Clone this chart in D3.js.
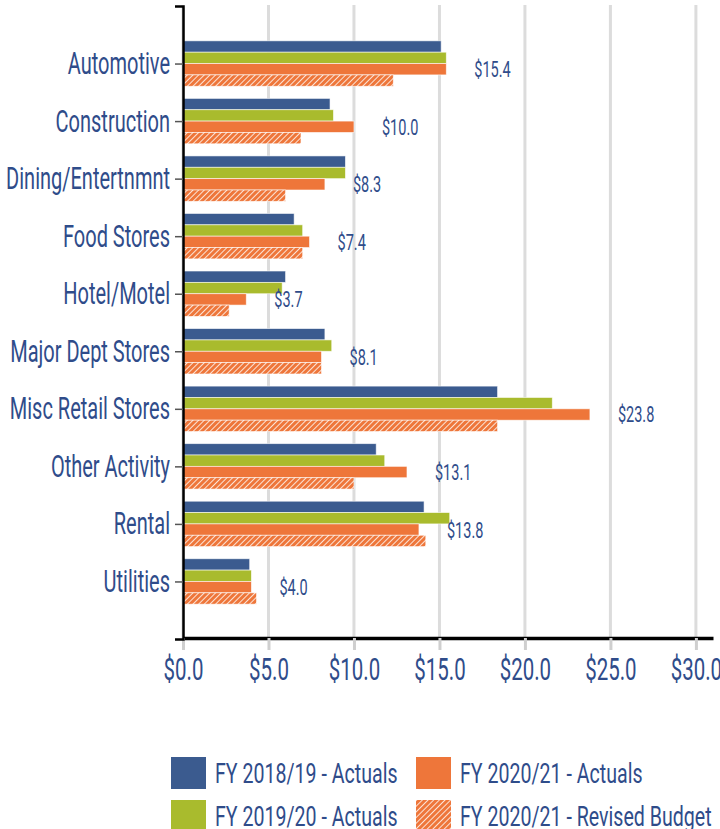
<!DOCTYPE html>
<html>
<head>
<meta charset="utf-8">
<script src="https://cdn.jsdelivr.net/npm/d3@7"></script>
<style>
  body { margin: 0; background: #fff; }
  text { font-family: Roboto, "Liberation Sans", sans-serif; fill: #2f4c8a; }
</style>
</head>
<body>
<div id="chart"></div>
<script>
// categories, top to bottom
var categories = ["Automotive", "Construction", "Dining/Entertnmnt", "Food Stores", "Hotel/Motel",
                  "Major Dept Stores", "Misc Retail Stores", "Other Activity", "Rental", "Utilities"];

// values in $ millions
var fy1819 = [15.1, 8.6, 9.5, 6.5, 6.0, 8.3, 18.4, 11.3, 14.1, 3.9];
var fy1920 = [15.4, 8.8, 9.5, 7.0, 5.8, 8.7, 21.6, 11.8, 15.6, 4.0];
var fy2021 = [15.4, 10.0, 8.3, 7.4, 3.7, 8.1, 23.8, 13.1, 13.8, 4.0];
var fy2021Budget = [12.3, 6.9, 6.0, 7.0, 2.7, 8.1, 18.4, 10.0, 14.2, 4.3];

var seriesNames = ["FY 2018/19 - Actuals", "FY 2019/20 - Actuals", "FY 2020/21 - Actuals", "FY 2020/21 - Revised Budget"];
var xTicks = [0, 5, 10, 15, 20, 25, 30];

var width = 720, height = 829;
// the original font is a condensed one, so squeeze the text horizontally
var squeeze = 0.66, squeezeCat = 0.645, squeezeLegend = 0.70;

var series = [fy1819, fy1920, fy2021, fy2021Budget];
var fills = ["#3b5b8f", "#a9bb2d", "#ee763a", "url(#hatch)"];

var svg = d3.select("#chart")
    .append("svg")
    .attr("width", width)
    .attr("height", height);

// hatch for the revised budget bars
var pattern = svg.append("defs")
    .append("pattern")
    .attr("id", "hatch")
    .attr("patternUnits", "userSpaceOnUse")
    .attr("width", 4)
    .attr("height", 4)
    .attr("patternTransform", "rotate(45)");
pattern.append("rect")
    .attr("width", 4)
    .attr("height", 4)
    .attr("fill", "#ee763a");
pattern.append("line")
    .attr("x1", 0).attr("y1", 0)
    .attr("x2", 0).attr("y2", 4)
    .attr("stroke", "#fff")
    .attr("stroke-width", 1.6);

var x = d3.scaleLinear().domain([0, 31]).range([183, 713]);
var y = d3.scalePoint().domain(categories).range([6, 639]).padding(1);
var sub = d3.scaleBand().domain(d3.range(series.length)).range([-22.7, 22.7]);

// gridlines
svg.selectAll("line.grid")
    .data(xTicks)
    .enter()
    .append("line")
    .attr("class", "grid")
    .attr("x1", function(d) { return x(d); })
    .attr("x2", function(d) { return x(d); })
    .attr("y1", 5)
    .attr("y2", 638)
    .attr("stroke", "#dcdcdc")
    .attr("stroke-width", 3);

// bars
var rows = categories.map(function(c, i) {
    return { cat: c, values: series.map(function(s) { return s[i]; }) };
});

var groups = svg.selectAll("g.row")
    .data(rows)
    .enter()
    .append("g")
    .attr("class", "row")
    .attr("transform", function(d) { return "translate(0," + y(d.cat) + ")"; });

groups.selectAll("rect")
    .data(function(d) { return d.values; })
    .enter()
    .append("rect")
    .attr("x", x(0))
    .attr("y", function(d, j) { return sub(j); })
    .attr("width", function(d) { return x(d) - x(0); })
    .attr("height", sub.bandwidth())
    .attr("fill", function(d, j) { return fills[j]; })
    .attr("stroke", "#fff")
    .attr("stroke-opacity", 0.7)
    .attr("stroke-width", 0.8);

// value labels next to the FY 2020/21 actuals
groups.append("text")
    .attr("transform", function(d) {
        return "translate(" + (x(d.values[2]) + 28) + "," + (sub(2) + sub.bandwidth() / 2) + ") scale(" + squeeze + ",1)";
    })
    .attr("dy", "0.36em")
    .style("font-size", "22px")
    .text(function(d) { return "$" + d.values[2].toFixed(1); });

// x axis
var xAxis = svg.append("g")
    .attr("transform", "translate(0,638)")
    .call(d3.axisBottom(x)
        .tickValues(xTicks)
        .tickSize(12)
        .tickSizeOuter(0)
        .tickPadding(8)
        .tickFormat(function(d) { return "$" + d.toFixed(1); }));
xAxis.select(".domain").attr("stroke", "#000").attr("stroke-width", 3.5);
xAxis.selectAll(".tick line").attr("stroke", "#cfcfcf").attr("stroke-width", 3);
xAxis.selectAll(".tick text")
    .attr("fill", null)
    .attr("transform", "scale(" + squeeze + ",1)")
    .style("font-size", "31px");

// y axis
var yAxis = svg.append("g")
    .attr("transform", "translate(" + x(0) + ",0)")
    .call(d3.axisLeft(y).tickSize(8).tickSizeOuter(8));
yAxis.select(".domain").attr("stroke", "#000").attr("stroke-width", 2.5);
yAxis.selectAll(".tick line").attr("stroke", "#555").attr("stroke-width", 1.5);
yAxis.selectAll(".tick text")
    .attr("fill", null)
    .attr("x", 0)
    .attr("transform", "translate(-13,0) scale(" + squeezeCat + ",1)")
    .style("font-size", "31px");

// legend
var legend = svg.selectAll("g.legend")
    .data(seriesNames)
    .enter()
    .append("g")
    .attr("class", "legend")
    .attr("transform", function(d, i) {
        return "translate(" + (171 + Math.floor(i / 2) * 245) + "," + (757 + (i % 2) * 43) + ")";
    });
legend.append("rect")
    .attr("width", 35)
    .attr("height", 32)
    .attr("fill", function(d, i) { return fills[i]; });
legend.append("text")
    .attr("transform", "translate(44,16) scale(" + squeezeLegend + ",1)")
    .attr("dy", "0.36em")
    .style("font-size", "28px")
    .text(function(d) { return d; });
</script>
</body>
</html>
